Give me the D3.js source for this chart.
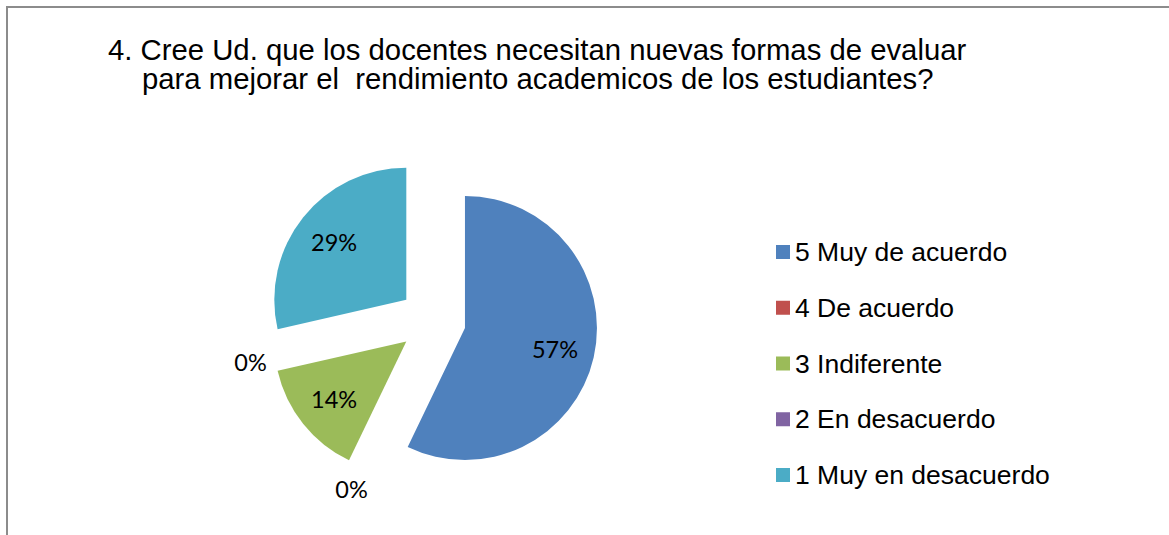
<!DOCTYPE html>
<html><head><meta charset="utf-8">
<script src="https://cdn.jsdelivr.net/npm/d3@7"></script>
<style>
html,body{margin:0;padding:0;background:#fff;}
svg{display:block;}
</style></head>
<body>
<svg id="chart" width="1169" height="535"></svg>
<script>
const categories = ["5 Muy de acuerdo","4 De acuerdo","3 Indiferente","2 En desacuerdo","1 Muy en desacuerdo"];
const values = [4, 0, 1, 0, 2];
const colors = ["#4F81BD","#C0504D","#9BBB59","#8064A2","#4BACC6"];
const titleLines = ["4. Cree Ud. que los docentes necesitan nuevas formas de evaluar","para mejorar el  rendimiento academicos de los estudiantes?"];

const svg = d3.select("#chart");
svg.append("rect").attr("x",7).attr("y",7).attr("width",1300).attr("height",700)
  .attr("fill","none").attr("stroke","#8c8c8c").attr("stroke-width",2);

svg.append("text").attr("x",108).attr("y",60).attr("font-family","Liberation Sans, Arial, sans-serif")
  .attr("font-size",29.3).attr("fill","#000").style("white-space","pre").text(titleLines[0]);
svg.append("text").attr("x",142).attr("y",89).attr("font-family","Liberation Sans, Arial, sans-serif")
  .attr("font-size",29.3).attr("fill","#000").style("white-space","pre").text(titleLines[1]);

const cx = 432.4, cy = 320.6, R = 132, explode = 33.4;
const total = d3.sum(values);
const pie = d3.pie().sort(null).value(d => d).startAngle(0).endAngle(2*Math.PI);
const arcs = pie(values);
const arc = d3.arc().innerRadius(0).outerRadius(R);
const g = svg.append("g").attr("transform",`translate(${cx},${cy})`);

arcs.forEach((a,i) => {
  const mid = (a.startAngle + a.endAngle)/2;
  const ox = explode*Math.sin(mid), oy = -explode*Math.cos(mid);
  const sg = g.append("g").attr("transform",`translate(${ox},${oy})`);
  if (a.value > 0) {
    sg.append("path").attr("d", arc(a)).attr("fill", colors[i]);
  }
  const lr = a.value > 0 ? R*0.7 : R*1.16;
  const lx = lr*Math.sin(mid), ly = -lr*Math.cos(mid);
  const pct = Math.round(a.value/total*100) + "%";
  sg.append("text").attr("x",lx).attr("y",ly).attr("text-anchor","middle")
    .attr("dominant-baseline","central").attr("font-family","Lato, Carlito, Calibri, sans-serif")
    .attr("font-size",23.5).attr("fill","#000").text(pct);
});

const legend = svg.append("g");
const ly = d3.scalePoint().domain(categories).range([252, 475]);
categories.forEach((c,i) => {
  legend.append("rect").attr("x",776).attr("y",ly(c)-7).attr("width",14).attr("height",14).attr("fill",colors[i]);
  legend.append("text").attr("x",795).attr("y",ly(c)+9).attr("font-family","Liberation Sans, Arial, sans-serif")
    .attr("font-size",26.5).attr("fill","#000").text(c);
});
</script>
</body></html>
